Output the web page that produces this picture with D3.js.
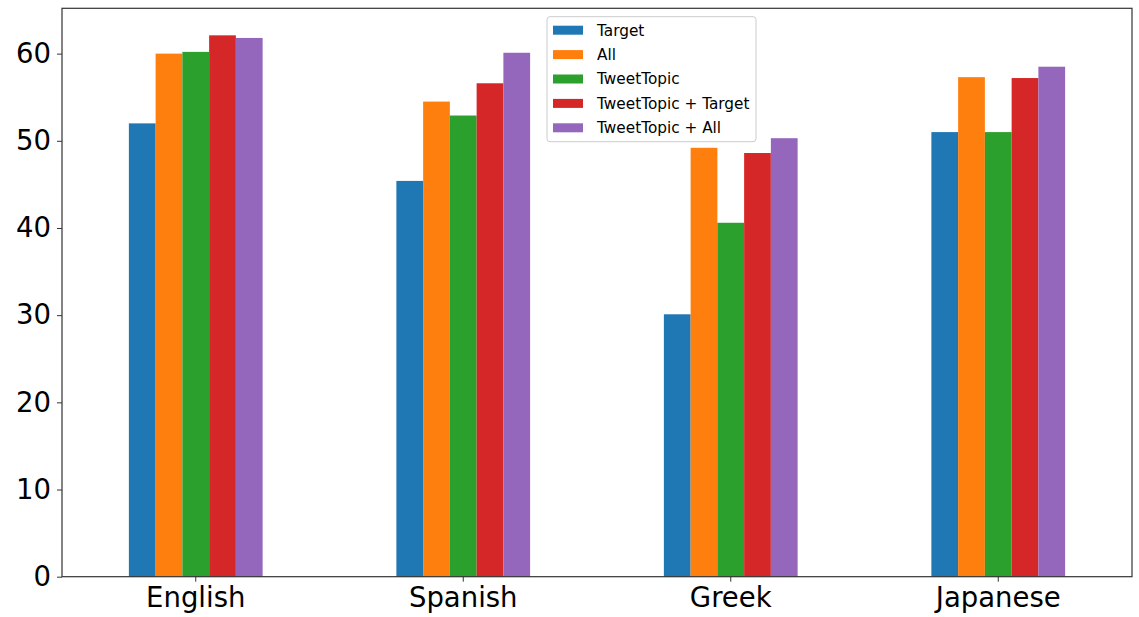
<!DOCTYPE html>
<html><head><meta charset="utf-8">
<script src="https://cdn.jsdelivr.net/npm/d3@7"></script>
<style>body{margin:0;background:#fff;} svg{display:block;} text{font-family:"DejaVu Sans",sans-serif;}</style>
</head><body><svg id="c" width="1139" height="617"></svg>
<script>
const categories = ["English", "Spanish", "Greek", "Japanese"];
const seriesNames = ["Target", "All", "TweetTopic", "TweetTopic + Target", "TweetTopic + All"];
const target = [52.0, 45.4, 30.1, 51.0];
const all = [60.0, 54.5, 49.2, 57.3];
const tweetTopic = [60.2, 52.9, 40.6, 51.0];
const tweetTopicTarget = [62.1, 56.6, 48.6, 57.2];
const tweetTopicAll = [61.8, 60.1, 50.3, 58.5];
const yTicks = [0, 10, 20, 30, 40, 50, 60];
const colors = ["#1f77b4", "#ff7f0e", "#2ca02c", "#d62728", "#9467bd"];
const seriesValues = [target, all, tweetTopic, tweetTopicTarget, tweetTopicAll];

const svg = d3.select("#c");
const L = 62, R = 1132, T = 8.3, B = 576.7;
const x = d3.scaleBand().domain(categories).range([L, R]).paddingInner(0.5).paddingOuter(0.25);
const xs = d3.scaleBand().domain(seriesNames).range([0, x.bandwidth()]);
const y = d3.scaleLinear().domain([0, 65.2]).range([B, T]);

seriesNames.forEach((s, si) => {
  svg.append("g").selectAll("rect").data(categories).join("rect")
    .attr("x", c => x(c) + xs(s))
    .attr("width", xs.bandwidth())
    .attr("y", (c, i) => y(seriesValues[si][i]))
    .attr("height", (c, i) => B - y(seriesValues[si][i]))
    .attr("fill", colors[si]);
});

svg.append("rect").attr("x", L).attr("y", T).attr("width", R - L).attr("height", B - T)
  .attr("fill", "none").attr("stroke", "#333").attr("stroke-width", 1.2);

const yAxis = svg.append("g").attr("transform", `translate(${L},0)`)
  .call(d3.axisLeft(y).tickValues(yTicks).tickSize(5).tickPadding(6));
yAxis.select(".domain").remove();
yAxis.selectAll("line").attr("stroke", "#333");
yAxis.selectAll("text").attr("font-size", 27.5).attr("fill", "#000").attr("font-family", "DejaVu Sans");

const xAxis = svg.append("g").attr("transform", `translate(0,${B})`)
  .call(d3.axisBottom(x).tickSize(5).tickPadding(6));
xAxis.select(".domain").remove();
xAxis.selectAll("line").attr("stroke", "#333");
xAxis.selectAll("text").attr("font-size", 27.5).attr("fill", "#000").attr("font-family", "DejaVu Sans");

const lg = svg.append("g").attr("transform", "translate(547,16.7)");
lg.append("rect").attr("width", 209).attr("height", 125).attr("rx", 3)
  .attr("fill", "#fff").attr("fill-opacity", 0.8).attr("stroke", "#ccc");
seriesNames.forEach((s, i) => {
  const yy = 13.5 + i * 24.4;
  lg.append("rect").attr("x", 6).attr("y", yy - 4.5).attr("width", 30).attr("height", 9).attr("fill", colors[i]);
  lg.append("text").attr("x", 50).attr("y", yy).attr("dy", "0.35em").attr("font-size", 15.3).text(s);
});
</script></body></html>
